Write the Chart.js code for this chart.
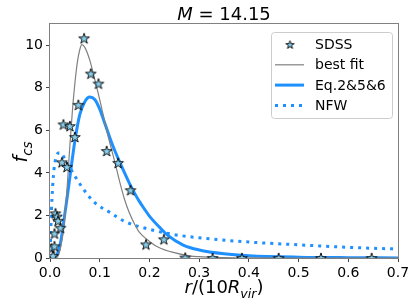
<!DOCTYPE html>
<html>
<head>
<meta charset="utf-8">
<script src="https://cdn.jsdelivr.net/npm/chart.js@4.4.1/dist/chart.umd.min.js"></script>
<style>
    html, body { margin: 0; padding: 0; background: #fff; }
    #wrap { width: 416px; height: 305px; }
</style>
</head>
<body>
<div id="wrap"><canvas id="ctx_fcs" width="416" height="305"></canvas></div>
<script>
// values
var title_parts = [['M', 'i'], [' = 14.15', 'n']];
var x_ticks = [0, 0.1, 0.2, 0.3, 0.4, 0.5, 0.6, 0.7];
var y_ticks = [0, 2, 4, 6, 8, 10];

var sdss_x = [0.003, 0.006, 0.009, 0.009, 0.011, 0.014, 0.016, 0.021, 0.024, 0.027, 0.034, 0.040, 0.050, 0.057, 0.0686, 0.082, 0.0975, 0.114, 0.137, 0.162, 0.193, 0.229, 0.272, 0.327, 0.386, 0.46, 0.545, 0.647];
var sdss_y = [0.45, 0.1, 0.55, 1.15, 2.1, 1.95, 1.75, 1.42, 4.5, 6.28, 4.28, 6.2, 5.69, 7.2, 10.33, 8.67, 8.2, 5.03, 4.47, 3.19, 0.64, 0.88, 0.02, 0.0, 0.0, 0.0, 0.0, 0.0];

var fit_x = [0, 0.01, 0.015, 0.02, 0.025, 0.03, 0.035, 0.04, 0.045, 0.05, 0.055, 0.06, 0.064, 0.07, 0.08, 0.09, 0.1, 0.114, 0.131, 0.14, 0.15, 0.16, 0.17, 0.18, 0.2, 0.22, 0.25, 0.28, 0.3, 0.35, 0.4, 0.5, 0.7];
var fit_y = [0, 0, 0.05, 0.35, 1.0, 2.0, 3.5, 5.3, 6.9, 8.2, 9.2, 9.8, 10.03, 9.9, 9.3, 8.4, 7.45, 6.0, 4.46, 3.6, 2.75, 2.1, 1.6, 1.2, 0.78, 0.48, 0.25, 0.1, 0.06, 0.02, 0.005, 0, 0];

var eq_x = [0, 0.01, 0.015, 0.02, 0.025, 0.03, 0.036, 0.04, 0.05, 0.06, 0.07, 0.08, 0.09, 0.1, 0.11, 0.127, 0.15, 0.16, 0.17, 0.18, 0.19, 0.2, 0.22, 0.235, 0.268, 0.3, 0.35, 0.4, 0.5, 0.6, 0.7];
var eq_y = [0, 0.05, 0.2, 0.6, 1.25, 2.1, 3.1, 3.8, 5.5, 6.75, 7.35, 7.57, 7.45, 7.0, 6.35, 5.24, 4.0, 3.5, 3.05, 2.65, 2.3, 1.97, 1.45, 1.1, 0.61, 0.38, 0.2, 0.11, 0.04, 0.015, 0.005];

var nfw_x = [0, 0.002, 0.004, 0.007, 0.01, 0.015, 0.02, 0.025, 0.03, 0.04, 0.05, 0.07, 0.09, 0.12, 0.15, 0.2, 0.25, 0.3, 0.4, 0.5, 0.6, 0.7];
var nfw_y = [0, 1.6, 2.8, 3.9, 4.5, 4.9, 4.95, 4.85, 4.65, 4.25, 3.85, 3.15, 2.6, 2.15, 1.72, 1.35, 1.1, 0.95, 0.75, 0.62, 0.5, 0.42];

var font = 'DejaVu Sans';
var blue = '#1E90FF';

function to_points(xs, ys) {
    return xs.map(function (x, i) { return {x: x, y: ys[i]}; });
}

// filled five point star like the matplotlib '*' marker
function make_star(r) {
    var size = Math.ceil(2 * r + 4);
    var c = document.createElement('canvas');
    c.width = size;
    c.height = size;
    var g = c.getContext('2d');
    g.beginPath();
    for (var k = 0; k < 10; k++) {
        var rr = (k % 2 == 0) ? r : r * 0.382;
        var a = -Math.PI / 2 + k * Math.PI / 5;
        g.lineTo(size / 2 + rr * Math.cos(a), size / 2 + 0.5 + rr * Math.sin(a));
    }
    g.closePath();
    g.fillStyle = '#87CEEB';
    g.fill();
    g.lineWidth = 0.9;
    g.strokeStyle = '#000';
    g.lineJoin = 'miter';
    g.stroke();
    return c;
}

var star_big = make_star(5.6);
var star_small = make_star(4.3);

// mixed upright / italic / subscript text, centered on x
function draw_parts(g, parts, x, y, size) {
    var widths = parts.map(function (p) {
        g.font = (p[1] == 'n' ? '' : 'italic ') + (p[1] == 's' ? size * 0.7 : size) + 'px "' + font + '"';
        return g.measureText(p[0]).width;
    });
    var total = widths.reduce(function (a, b) { return a + b; }, 0);
    var cx = x - total / 2;
    g.textAlign = 'left';
    g.textBaseline = 'alphabetic';
    g.fillStyle = '#000';
    parts.forEach(function (p, i) {
        g.font = (p[1] == 'n' ? '' : 'italic ') + (p[1] == 's' ? size * 0.7 : size) + 'px "' + font + '"';
        g.fillText(p[0], cx, p[1] == 's' ? y + size * 0.25 : y);
        cx += widths[i];
    });
}

var decorations = {
    id: 'decorations',
    afterDraw: function (chart) {
        var g = chart.ctx;
        var a = chart.chartArea;
        g.save();

        // frame
        g.strokeStyle = '#808080';
        g.lineWidth = 1;
        g.strokeRect(a.left - 0.5, a.top - 0.5, a.right - a.left + 1, a.bottom - a.top + 1);

        // title and axis labels
        draw_parts(g, title_parts, (a.left + a.right) / 2, 20, 18);
        draw_parts(g, [['r', 'i'], ['/(10', 'n'], ['R', 'i'], ['vir', 's'], [')', 'n']], (a.left + a.right) / 2, 293, 18);
        g.save();
        g.translate(27, (a.top + a.bottom) / 2 + 11);
        g.rotate(-Math.PI / 2);
        draw_parts(g, [['f', 'i'], ['cs', 's']], 0, 0, 19);
        g.restore();

        // legend box
        var lx = 271, ly = 32, lw = 121, lh = 86;
        g.beginPath();
        g.roundRect(lx + 0.5, ly + 0.5, lw, lh, 3);
        g.fillStyle = 'rgba(255,255,255,0.8)';
        g.fill();
        g.strokeStyle = '#cccccc';
        g.stroke();

        g.font = '14px "' + font + '"';
        g.textAlign = 'left';
        g.textBaseline = 'middle';
        chart.data.datasets.forEach(function (ds, i) {
            var yy = 44.5 + i * 20.3;
            if (ds.showLine) {
                g.beginPath();
                g.setLineDash(ds.borderDash || []);
                g.lineWidth = ds.borderWidth;
                g.strokeStyle = ds.borderColor;
                g.moveTo(275, yy);
                g.lineTo(304, yy);
                g.stroke();
                g.setLineDash([]);
            } else {
                g.drawImage(star_small, 290 - star_small.width / 2, yy - star_small.height / 2);
            }
            g.fillStyle = '#000';
            g.fillText(ds.label, 315, yy + 1);
        });
        g.restore();
    }
};

var chart_fcs = new Chart(document.getElementById('ctx_fcs').getContext('2d'), {
    type: 'scatter',
    data: {
        datasets: [{
            label: 'SDSS',
            data: to_points(sdss_x, sdss_y),
            showLine: false,
            pointStyle: star_big,
        }, {
            label: 'best fit',
            data: to_points(fit_x, fit_y),
            showLine: true,
            borderColor: '#808080',
            borderWidth: 1.2,
            pointRadius: 0,
            cubicInterpolationMode: 'monotone',
        }, {
            label: 'Eq.2&5&6',
            data: to_points(eq_x, eq_y),
            showLine: true,
            borderColor: blue,
            borderWidth: 3,
            pointRadius: 0,
            cubicInterpolationMode: 'monotone',
        }, {
            label: 'NFW',
            data: to_points(nfw_x, nfw_y),
            showLine: true,
            borderColor: blue,
            borderWidth: 3,
            borderDash: [3, 5],
            pointRadius: 0,
            cubicInterpolationMode: 'monotone',
        }]
    },
    options: {
        responsive: false,
        animation: false,
        events: [],
        layout: {
            padding: {top: 24, right: 18, left: 0, bottom: 0}
        },
        plugins: {
            legend: {display: false},
            tooltip: {enabled: false},
        },
        scales: {
            x: {
                type: 'linear',
                min: 0,
                max: 0.7,
                afterBuildTicks: function (axis) {
                    axis.ticks = x_ticks.map(function (v) { return {value: v}; });
                },
                afterFit: function (axis) { axis.height = 47; },
                border: {display: false},
                grid: {drawOnChartArea: false, drawTicks: true, tickLength: 4, color: '#444'},
                ticks: {
                    color: '#000',
                    padding: 3,
                    maxRotation: 0,
                    font: {family: font, size: 14},
                    callback: function (v) { return v.toFixed(1); }
                }
            },
            y: {
                type: 'linear',
                min: 0,
                max: 11,
                afterBuildTicks: function (axis) {
                    axis.ticks = y_ticks.map(function (v) { return {value: v}; });
                },
                afterFit: function (axis) { axis.width = 50; },
                border: {display: false},
                grid: {drawOnChartArea: false, drawTicks: true, tickLength: 4, color: '#444'},
                ticks: {
                    color: '#000',
                    padding: 3,
                    font: {family: font, size: 14},
                    callback: function (v) { return String(v); }
                }
            }
        }
    },
    plugins: [decorations]
});
</script>
</body>
</html>
